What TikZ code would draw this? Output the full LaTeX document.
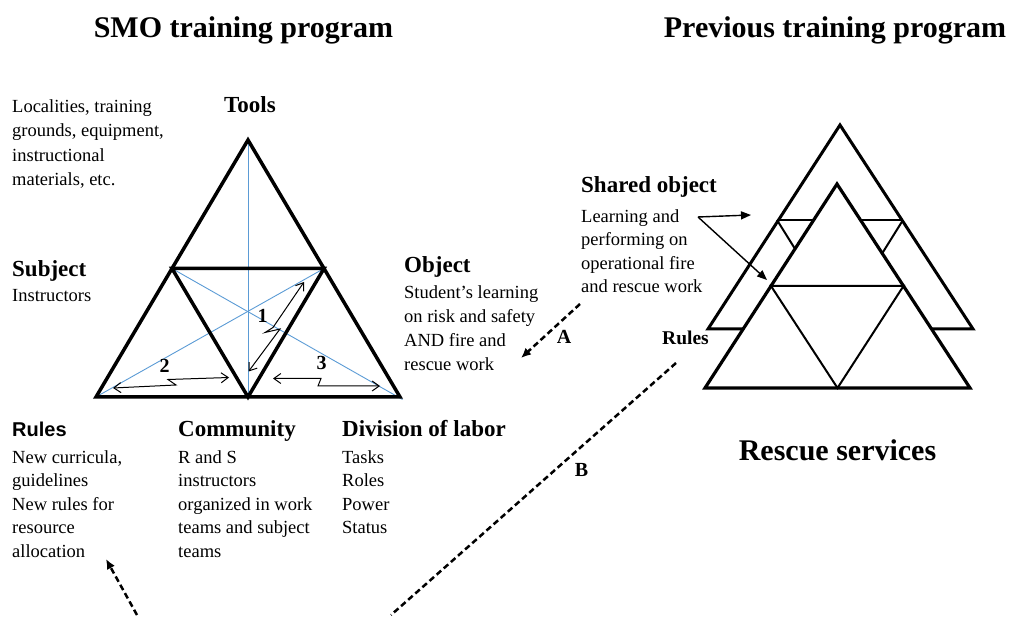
\documentclass[tikz,border=0pt]{standalone}
\usepackage{fontspec}
\setmainfont{Liberation Serif}
\setsansfont{Liberation Sans}
\usetikzlibrary{arrows.meta}
\definecolor{blueline}{RGB}{91,155,213}
\begin{document}
\begin{tikzpicture}[x=1pt,y=-1pt,
  body/.style={font=\fontsize{18.5}{24}\selectfont, align=left, inner sep=0pt, anchor=north west},
  head/.style={font=\fontsize{23}{27}\selectfont\bfseries, inner sep=0pt, anchor=base west},
  titletext/.style={font=\fontsize{30}{34}\selectfont\bfseries, inner sep=0pt, anchor=base},
  numlabel/.style={font=\fontsize{20}{24}\selectfont\bfseries, inner sep=0pt, anchor=base},
  outerline/.style={line width=3.5pt},
  innerline/.style={line width=2pt},
  guide/.style={draw=blueline, line width=0.9pt},
  conflict/.style={line width=1pt, {Straight Barb[length=7pt,width=10pt]}-{Straight Barb[length=7pt,width=10pt]}},
  pointer/.style={line width=1.4pt, -{Triangle[length=10pt,width=8pt]}},
  dashlink/.style={line width=2.5pt, dash pattern=on 6pt off 3.5pt},
  dasharrow/.style={dashlink, -{Latex[length=10pt,width=9pt]}}
]
\useasboundingbox (0,0) rectangle (1010,617);

% ---------- left triangle ----------
\coordinate (T) at (248,140);
\coordinate (L) at (96,397);
\coordinate (R) at (400,397);
\coordinate (ML) at (172,268.5);
\coordinate (MR) at (324,268.5);
\coordinate (MB) at (248,397);
\coordinate (Rx) at (402.5,399.5);
\coordinate (Lx) at (95,397.5);

\draw[guide] (T) -- (MB);
\draw[guide] (ML) -- (Rx);
\draw[guide] (MR) -- (Lx);

\draw[outerline] (T) -- (L) -- (R) -- cycle;
\draw[outerline] (ML) -- (MR) -- (MB) -- cycle;

% contradiction arrows
\coordinate (c1a) at (304,282);
\coordinate (c1b) at (273,327.5);
\coordinate (c1c) at (265,332.5);
\coordinate (c1d) at (280,329);
\coordinate (c1e) at (248.5,371.5);
\draw[conflict] (c1a) -- (c1b) -- (c1c) -- (c1d) -- (c1e);

\coordinate (c2a) at (113,388);
\coordinate (c2b) at (176,385);
\coordinate (c2c) at (168,379.5);
\coordinate (c2d) at (229,377.5);
\draw[conflict] (c2a) -- (c2b) -- (c2c) -- (c2d);

\coordinate (c3a) at (273,378.5);
\coordinate (c3b) at (321,378.5);
\coordinate (c3c) at (318,386);
\coordinate (c3d) at (380,386);
\draw[conflict] (c3a) -- (c3b) -- (c3c) -- (c3d);

\node[numlabel] (n1) at (262.5,323) {1};
\node[numlabel] (n2) at (164.5,372.5) {2};
\node[numlabel] (n3) at (321.5,370) {3};

% ---------- right triangles ----------
\coordinate (BA) at (840,125);
\coordinate (BL) at (708,329);
\coordinate (BR) at (973,329);
\coordinate (BML) at (777,220);
\coordinate (BMR) at (903,220);
\coordinate (BX1) at (845,329);
\coordinate (BX2) at (835,329);

\draw[innerline] (BML) -- (BMR);
\draw[innerline] (BML) -- (BX1);
\draw[innerline] (BMR) -- (BX2);
\draw[line width=3pt] (BA) -- (BL) -- (BR) -- cycle;

\coordinate (FA) at (837,184);
\coordinate (FL) at (705,388);
\coordinate (FR) at (970,388);
\coordinate (FML) at (771,286);
\coordinate (FMR) at (903.5,286);
\coordinate (FMB) at (837.5,388);

\fill[white] (FA) -- (FL) -- (FR) -- cycle;
\draw[innerline] (FML) -- (FMR) -- (FMB) -- cycle;
\draw[line width=3.2pt] (FA) -- (FL) -- (FR) -- cycle;

% shared object arrows
\coordinate (S) at (698,217);
\coordinate (E1) at (751,215);
\coordinate (E2) at (767,280);
\draw[pointer] (S) -- (E1);
\draw[pointer] (S) -- (E2);

% ---------- dashed links ----------
\coordinate (Aa) at (580,304);
\coordinate (Ab) at (521,358);
\draw[dasharrow] (Aa) -- (Ab);

\coordinate (Ba) at (676,363);
\coordinate (Bb) at (391,615);
\draw[dashlink] (Ba) -- (Bb);

\coordinate (Ca) at (137,615);
\coordinate (Cb) at (106,559);
\draw[dasharrow] (Ca) -- (Cb);

\node[numlabel] (labA) at (564,343.5) {A};
\node[numlabel] (labB) at (581.5,477) {B};

% ---------- titles ----------
\node[titletext] (t1) at (243.5,38) {SMO training program};
\node[titletext] (t2) at (835,38) {Previous training program};
\node[titletext] (t3) at (837.5,461) {Rescue services};

% ---------- texts ----------
\node[head] (tools) at (224,113) {Tools};
\node[body, font=\fontsize{18.5}{24.5}\selectfont] (toolsb) at (12,99.4) {Localities, training\\grounds, equipment,\\instructional\\materials, etc.};

\node[head] (subj) at (12,277) {Subject};
\node[body] (subjb) at (12,289.4) {Instructors};

\node[head] (obj) at (404,273) {Object};
\node[body] (objb) at (404,285.4) {Student's learning\\on risk and safety\\AND fire and\\rescue work};

\node[head, font=\fontsize{20}{24}\selectfont\sffamily\bfseries] (rules) at (12,437) {Rules};
\node[body, font=\fontsize{18.5}{23.5}\selectfont] (rulesb) at (12,450.4) {New curricula,\\guidelines\\New rules for\\resource\\allocation};

\node[head] (comm) at (178,437) {Community};
\node[body, font=\fontsize{18.5}{23.5}\selectfont] (commb) at (178,450.4) {R and S\\instructors\\organized in work\\teams and subject\\teams};

\node[head] (div) at (342,437) {Division of labor};
\node[body, font=\fontsize{18.5}{23.5}\selectfont] (divb) at (342,450.4) {Tasks\\Roles\\Power\\Status};

\node[head] (shared) at (581,193) {Shared object};
\node[body, font=\fontsize{18.5}{23.5}\selectfont] (sharedb) at (581,209.4) {Learning and\\performing on\\operational fire\\and rescue work};

\node[head, font=\fontsize{19.5}{23}\selectfont\bfseries] (rules2) at (662,345) {Rules};
\end{tikzpicture}
\end{document}
